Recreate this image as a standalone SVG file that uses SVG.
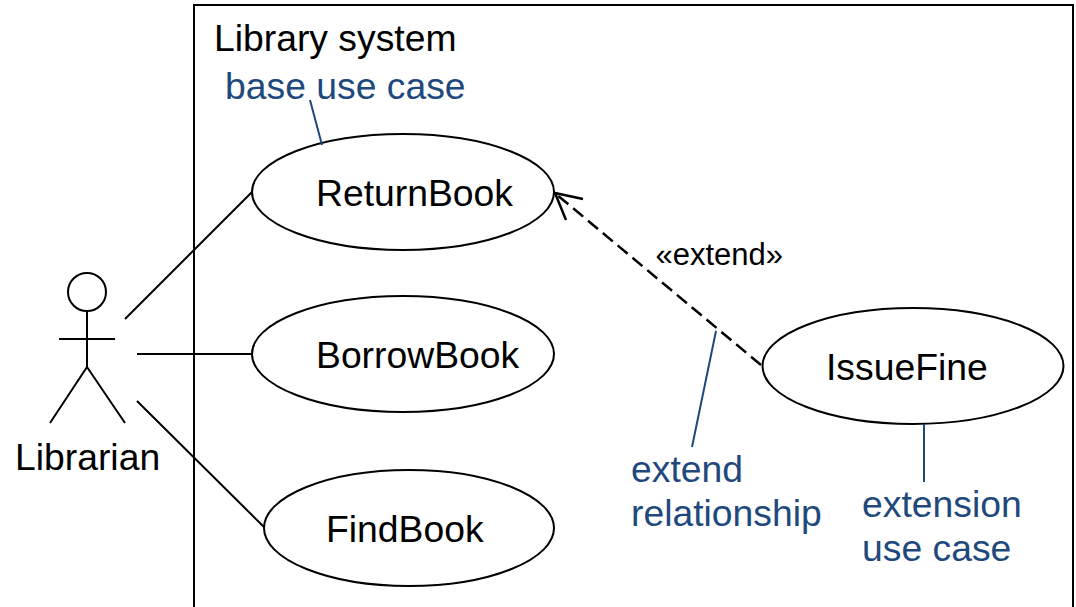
<svg xmlns="http://www.w3.org/2000/svg" width="1076" height="607" viewBox="0 0 1076 607">
<style>
text{font-family:"Liberation Sans",Arial,sans-serif;font-size:37.3px;fill:#000}
.b{fill:#1f497d}
.e{fill:#fff;stroke:#000;stroke-width:2}
.l{stroke:#000;stroke-width:2;fill:none}
.n{stroke:#1f497d;stroke-width:2;fill:none}
</style>
<rect width="1076" height="607" fill="#fff"/>
<g id="system"><path class="l" d="M194 607V5H1073V607"/><text x="214" y="51">Library system</text></g>
<g id="actor"><circle class="l" cx="87" cy="292" r="19"/><path class="l" d="M87 311V367M59 339H115M87 367L50 423M87 367L125 423"/><text x="15" y="470">Librarian</text></g>
<g id="returnbook"><ellipse class="e" cx="403" cy="192" rx="151" ry="58"/><text x="316" y="206">ReturnBook</text></g>
<g id="borrowbook"><ellipse class="e" cx="403" cy="354" rx="151" ry="58"/><text x="316" y="368">BorrowBook</text></g>
<g id="findbook"><ellipse class="e" cx="409" cy="528" rx="145" ry="58"/><text x="326" y="542">FindBook</text></g>
<g id="issuefine"><ellipse class="e" cx="913" cy="366" rx="150.5" ry="58"/><text x="826" y="380">IssueFine</text></g>
<g id="connectors">
<path class="l" d="M125 319L252 192M137 354H252M137 401L264 527"/>
<path class="l" style="stroke-width:2.5" stroke-dasharray="13 6.3" d="M761 365L556 194"/>
<path class="l" style="stroke-width:2.5" d="M566 220L555 193L583 199"/>
<path class="n" d="M310 100L322 145M716 331L692 447M924 424V482"/>
</g>
<text x="655.5" y="265" style="font-size:31px">«extend»</text>
<text class="b" x="225" y="99">base use case</text>
<text class="b" x="631" y="482">extend</text>
<text class="b" x="631" y="526">relationship</text>
<text class="b" x="862" y="517">extension</text>
<text class="b" x="862" y="561">use case</text>
</svg>
